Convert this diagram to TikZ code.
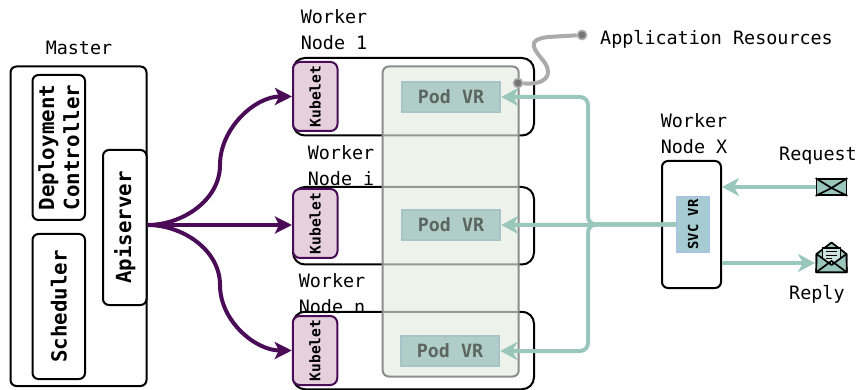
\documentclass[tikz,border=0pt]{standalone}
\usepackage{fontspec}
\setmainfont{DejaVu Sans Mono}
\usetikzlibrary{arrows.meta}
\definecolor{pur}{HTML}{4A0B57}
\definecolor{kubfill}{HTML}{E6D0DE}
\definecolor{teal}{HTML}{9AC7BB}
\definecolor{podfill}{HTML}{B0CDC9}
\definecolor{podline}{HTML}{A8C3C8}
\definecolor{podtext}{HTML}{5C665F}
\definecolor{greenfill}{HTML}{E3EDE0}
\definecolor{svcfill}{HTML}{A6CBD0}
\definecolor{svcline}{HTML}{A9C4E0}
\tikzset{
  x=1pt,y=-1pt,
  lbl/.style={font=\fontsize{18.4}{26}\selectfont,align=left,inner sep=0pt,text=black},
  bx/.style={draw=black,line width=2pt,rounded corners=6pt,inner sep=0pt,fill=white,align=center},
  bigbold/.style={font=\fontsize{20.8}{25}\bfseries\selectfont},
  kub/.style={draw=pur,line width=2pt,fill=kubfill,rounded corners=7pt,rotate=90,inner sep=0pt,
     minimum width=69pt,minimum height=44.5pt,font=\fontsize{14.6}{17}\bfseries\selectfont},
  wk/.style={draw=black,line width=2pt,rounded corners=12pt,inner sep=0pt,minimum width=241pt},
  pod/.style={draw=podline,line width=2.5pt,fill=podfill,inner sep=0pt,minimum width=98pt,minimum height=30pt,
     font=\fontsize{18.3}{22}\bfseries\selectfont,text=podtext},
  parrow/.style={draw=pur,line width=4pt,-{Stealth[length=17pt,width=17pt,inset=4pt]}},
  tarrow/.style={draw=teal,line width=4pt,rounded corners=8pt,-{Stealth[length=17pt,width=18pt,inset=5pt]}},
  dotn/.style={circle,fill=black!55,draw=black!30,line width=1.5pt,minimum size=9pt,inner sep=0pt,opacity=.85},
  env/.style={draw=black,line width=1.7pt,fill=teal,line join=round},
}
\begin{document}
\begin{tikzpicture}
\useasboundingbox (0,0) rectangle (857,390);
% labels behind
\node[lbl] (lm) at (79,48) {Master};
\node[lbl] (l1) at (334,30) {Worker\\Node 1};
\node[lbl] (li) at (341,166) {Worker\\Node i};
\node[lbl] (ln) at (332,294) {Worker\\Node n};
\node[lbl] (lx) at (694,134) {Worker\\Node X};
\node[lbl,anchor=west] (lreq) at (779,156) {Request};
\node[lbl,anchor=west] (lrep) at (789,294) {Reply};
\node[lbl,anchor=west] (lapp) at (600,39) {Application Resources};
% master
\node[bx,minimum width=136pt,minimum height=319.5pt] (master) at (78.5,226.25) {};
\node[bx,bigbold,rotate=90,minimum width=145pt,minimum height=52.5pt] (dep) at (58.75,147.5) {Deployment\\Controller};
\node[bx,bigbold,rotate=90,minimum width=145pt,minimum height=52.5pt] (sch) at (58.75,306.5) {Scheduler};
\node[bx,bigbold,rotate=90,minimum width=155pt,minimum height=43.5pt] (api) at (124.75,227.5) {Apiserver};
% workers
\node[wk,minimum height=77.5pt] (w1) at (413.5,96.75) {};
\node[wk,minimum height=77.5pt] (wi) at (413.5,225.75) {};
\node[wk,minimum height=77.5pt] (wn) at (413.5,350.5) {};
% kubelets
\node[kub] (k1) at (315.25,96.5) {Kubelet};
\node[kub] (ki) at (315.25,223.5) {Kubelet\hspace{5pt}};
\node[kub] (kn) at (315,350.5) {Kubelet};
% pod group
\node[draw=black!45,line width=2pt,rounded corners=6pt,fill=greenfill,fill opacity=.65,minimum width=136pt,minimum height=310pt,inner sep=0pt] (grp) at (450.7,221.5) {};
\node[pod] (p1) at (451,97) {Pod VR};
\node[pod] (pi) at (451,225) {Pod VR};
\node[pod] (pn) at (450,351) {Pod VR};
% worker X
\node[bx,minimum width=59pt,minimum height=127pt] (wx) at (691.5,224.5) {};
\node[draw=svcline,line width=1.5pt,fill=svcfill,rotate=90,minimum width=55pt,minimum height=32pt,inner sep=0pt,font=\fontsize{13.8}{16}\bfseries\selectfont] (svc) at (693,224.5) {SVC VR};
% purple arrows
\coordinate (c1) at (220,165);
\coordinate (cn) at (220,285);
\draw[parrow] (api.south |- pi) to[out=0,in=-90,looseness=.95] (c1) to[out=90,in=180,looseness=.95] (k1.north);
\draw[parrow] (api.south |- pi) -- (ki.north |- pi);
\draw[parrow] (api.south |- pi) to[out=0,in=90,looseness=.95] (cn) to[out=-90,in=180,looseness=.95] (kn.north);
% teal arrows
\coordinate (bu) at (588,160);
\coordinate (bd) at (588,290);
\draw[tarrow] (svc.north) -- (pi.east);
\draw[tarrow] (svc.north) -| (bu) |- (p1.east);
\draw[tarrow] (svc.north) -| (bd) |- (pn.east);
% application link
\node[dotn] (d1) at (518,83) {};
\node[dotn] (d2) at (582,35) {};
\draw[draw=black!33,line width=4pt] (d1) .. controls (545,85) and (553,76) .. (545,63) .. controls (535,50) and (524,40) .. (548,37) -- (d2);
\node[dotn] at (d1) {};
\node[dotn] at (d2) {};
% request envelope
\node[env,minimum width=30pt,minimum height=16pt,inner sep=0pt] (req) at (831.5,187) {};
\draw[line width=1.7pt] (req.north west) -- ([yshift=-1pt]req.center) -- (req.north east);
\draw[line width=1.7pt] (req.south west) -- ([yshift=-1pt]req.center) -- (req.south east);
\draw[tarrow] (req.west) -- (wx.east |- req);
% reply envelope
\coordinate (rp) at (831.5,257);
\node[inner sep=0pt,minimum width=30pt,minimum height=30pt] (rep) at (rp) {};
\draw[env] (rep.south west) -- (816.5,254) -- (831.5,242.5) -- (846.5,254) -- (rep.south east) -- cycle;
\draw[line width=1.2pt,fill=teal!50] (822.5,264) -- (822.5,248) -- (840.5,248) -- (840.5,264);
\draw[line width=1pt] (826,252) -- (837,252) (826,255.5) -- (837,255.5) (826,259) -- (832,259);
\draw[env] (rep.south west) -- (816.5,254) -- (831.5,265) -- (846.5,254) -- (rep.south east) -- cycle;
\draw[line width=1.7pt] (rep.south west) -- (831.5,261) -- (rep.south east);
\coordinate (rin) at (815,263);
\draw[tarrow] (wx.east |- rin) -- (rin);
\end{tikzpicture}
\end{document}
